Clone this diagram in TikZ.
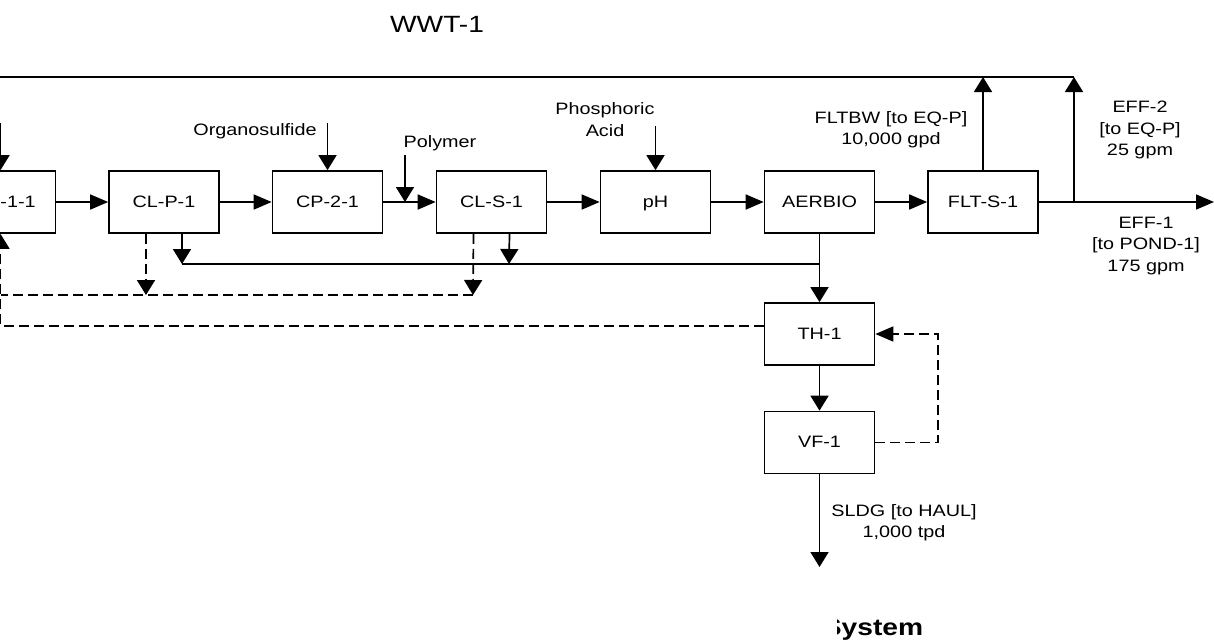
\documentclass[tikz,border=0pt]{standalone}
\usepackage{fontspec}
\setmainfont{Liberation Sans}[FakeStretch=1.2]
\usetikzlibrary{arrows.meta}
\begin{document}
\begin{tikzpicture}[x=1pt,y=-1pt,
  line width=1.7pt,
  unit/.style={draw, minimum width=110pt, minimum height=62pt, inner sep=0pt, text height=12pt, text depth=2pt, font=\fontsize{16.5}{21}\selectfont},
  lbl/.style={align=center, inner sep=0pt, font=\fontsize{16.5}{21.3}\selectfont},
  harr/.style={-{Triangle[length=18pt,width=15pt]}},
  varr/.style={-{Triangle[length=15pt,width=18pt]}},
  dsh/.style={dash pattern=on 10pt off 5pt}]
\useasboundingbox (0,0) rectangle (1214,641);
\clip (0,0) rectangle (1214,641);

% title
\node[anchor=base, inner sep=0pt, font=\fontsize{23.5}{28}\selectfont] (title) at (437,32) {WWT-1};

% units
\node[unit] (lb)  at (0.5,202) {\makebox[0pt][l]{\hspace{0pt}-1-1}};
\node[unit] (clp) at (164,202) {CL-P-1};
\node[unit] (cp2) at (327.5,202) {CP-2-1};
\node[unit] (cls) at (491.5,202) {CL-S-1};
\node[unit] (ph)  at (655.5,202) {pH};
\node[unit] (aer) at (819.5,202) {AERBIO};
\node[unit] (flt) at (983,202) {FLT-S-1};
\node[unit] (th)  at (819.5,334) {TH-1};
\node[unit] (vf)  at (819.5,442.5) {VF-1};

% labels
\node[lbl, anchor=base] (los) at (255,135) {Organosulfide};
\node[lbl, anchor=base] (lpo) at (440,147) {Polymer};
\node[lbl] (lpa) at (605,119.5) {Phosphoric\\Acid};
\node[lbl] (lfb) at (891,130) {FLTBW {[to EQ-P]}\\10,000 gpd};
\node[lbl] (le2) at (1140,130) {EFF-2\\{[to EQ-P]}\\25 gpm};
\node[lbl] (le1) at (1146,246) {EFF-1\\{[to POND-1]}\\175 gpm};
\node[lbl] (lsl) at (904,522.5) {SLDG {[to HAUL]}\\1,000 tpd};
\begin{scope}
\clip (837,590) rectangle (1000,641);
\node[anchor=base, inner sep=0pt, font=\bfseries\fontsize{23.5}{28}\selectfont] (lsys) at (873,635) {System};
\end{scope}

% free ends
\coordinate (feed) at (0.5,123);
\coordinate (os) at (327.5,123);
\coordinate (pol) at (405,155);
\coordinate (polend) at (405,202);
\coordinate (pa) at (655.5,126);
\coordinate (out) at (1214,202);
\coordinate (top1) at (983,77);
\coordinate (split) at (1074,202);
\coordinate (top2) at (1074,77);
\coordinate (topL) at (-5,77);
\coordinate (j1) at (182,264);
\coordinate (j2) at (509,264);
\coordinate (j3) at (819.5,264);
\coordinate (d1) at (146,295);
\coordinate (d2) at (473,295);
\coordinate (d0) at (0.5,295);
\coordinate (d4) at (0.5,326);
\coordinate (d5) at (938,442.5);
\coordinate (sl) at (819.5,567);

% main line
\draw[varr] (feed) -- (lb.north);
\draw[harr] (lb.east) -- (clp.west);
\draw[harr] (clp.east) -- (cp2.west);
\draw[harr] (cp2.east) -- (cls.west);
\draw[harr] (cls.east) -- (ph.west);
\draw[harr] (ph.east) -- (aer.west);
\draw[harr] (aer.east) -- (flt.west);
\draw[harr] (flt.east) -- (out);

% chemical feeds
\draw[varr] (os) -- (cp2.north);
\draw[varr] (pol) -- (polend);
\draw[varr] (pa) -- (ph.north);

% recycle lines
\draw[varr] (flt.north) -- (top1);
\draw[varr] (split) -- (top2);
\draw (topL) -- (top2);

% sludge lines
\draw[varr] ([xshift=18pt]clp.south) -- (j1);
\draw[varr] ([xshift=18pt]cls.south) -- (j2);
\draw (j1) -- (j3);
\draw[varr] (aer.south) -- (th.north);
\draw[varr] (th.south) -- (vf.north);
\draw[varr] (vf.south) -- (sl);

% dashed lines
\draw[varr,dsh] ([xshift=-18pt]clp.south) -- (d1);
\draw[varr,dsh] ([xshift=-18pt]cls.south) -- (d2);
\draw[dsh] (d2) -- (d0);
\draw[varr,dsh] ([yshift=8pt]th.west) -- (d4) -- (lb.south);
\draw[harr,dsh] (vf.east) -- (d5) |- (th.east);
\end{tikzpicture}
\end{document}
